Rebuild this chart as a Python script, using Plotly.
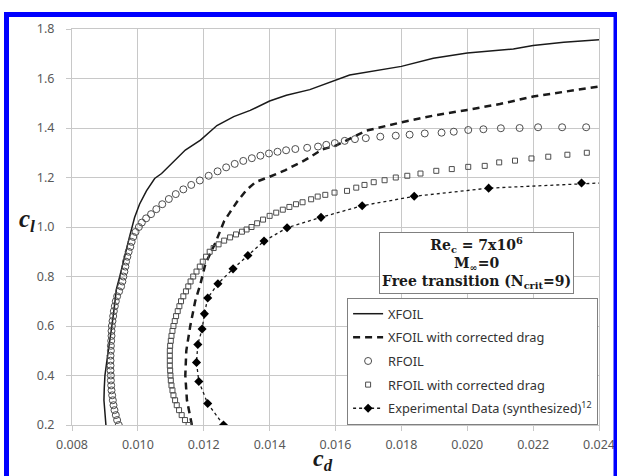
import plotly.graph_objects as go

# ---------------- data ----------------
xfoil_cd = [0.00903, 0.00899, 0.00897, 0.00898, 0.00900, 0.00905, 0.00911, 0.00915, 0.00921, 0.00926,
            0.00930, 0.00935, 0.00945, 0.00954, 0.00963, 0.00974, 0.00990, 0.01005, 0.01026, 0.01051,
            0.01072, 0.01097, 0.01120, 0.01144, 0.01190, 0.01240, 0.01291, 0.01341, 0.01400, 0.01451,
            0.01522, 0.01600, 0.01643, 0.01800, 0.01897, 0.02000, 0.02140, 0.02200, 0.02293, 0.02400]
xfoil_cl = [0.200, 0.250, 0.300, 0.350, 0.400, 0.450, 0.500, 0.550, 0.600, 0.650,
            0.700, 0.750, 0.800, 0.851, 0.900, 0.957, 1.038, 1.092, 1.146, 1.196,
            1.216, 1.250, 1.280, 1.311, 1.351, 1.410, 1.446, 1.471, 1.509, 1.532,
            1.555, 1.591, 1.614, 1.649, 1.682, 1.703, 1.719, 1.733, 1.746, 1.757]

xfoil_corr_cd = [0.01164, 0.01149, 0.01144, 0.01147, 0.01159, 0.01174, 0.01190, 0.01205, 0.01235, 0.01262,
                 0.01280, 0.01300, 0.01330, 0.01358, 0.01400, 0.01448, 0.01507, 0.01561, 0.01600, 0.01693,
                 0.01800, 0.01897, 0.02000, 0.02099, 0.02200, 0.02304, 0.02400]
xfoil_corr_cl = [0.200, 0.300, 0.400, 0.500, 0.600, 0.700, 0.770, 0.851, 0.935, 1.024,
                 1.060, 1.100, 1.150, 1.182, 1.203, 1.230, 1.270, 1.314, 1.328, 1.389,
                 1.423, 1.450, 1.473, 1.497, 1.527, 1.549, 1.568]

rfoil_cd = [0.00942, 0.00937, 0.00933, 0.00929, 0.00926, 0.00924, 0.00922, 0.00920, 0.00919, 0.00918,
            0.00918, 0.00917, 0.00917, 0.00917, 0.00917, 0.00918, 0.00918, 0.00919, 0.00920, 0.00920,
            0.00921, 0.00923, 0.00925, 0.00927, 0.00930, 0.00933, 0.00937, 0.00943, 0.00949, 0.00953,
            0.00956, 0.00959, 0.00962, 0.00964, 0.00968, 0.00972, 0.00977, 0.00981, 0.00986, 0.00993,
            0.01003, 0.01012, 0.01025, 0.01040, 0.01056, 0.01074, 0.01094, 0.01115, 0.01138, 0.01162,
            0.01188, 0.01215, 0.01242, 0.01268, 0.01294, 0.01320, 0.01346, 0.01372, 0.01398, 0.01424,
            0.01450, 0.01478, 0.01514, 0.01547, 0.01572, 0.01598, 0.01628, 0.01659, 0.01692, 0.01736,
            0.01783, 0.01825, 0.01871, 0.01922, 0.01959, 0.02003, 0.02049, 0.02102, 0.02159, 0.02215,
            0.02288, 0.02361]
rfoil_cl = [0.200, 0.220, 0.240, 0.260, 0.280, 0.300, 0.320, 0.340, 0.360, 0.380,
            0.400, 0.420, 0.440, 0.460, 0.480, 0.500, 0.520, 0.540, 0.560, 0.580,
            0.600, 0.620, 0.640, 0.660, 0.680, 0.700, 0.720, 0.740, 0.760, 0.780,
            0.800, 0.820, 0.840, 0.860, 0.880, 0.900, 0.920, 0.940, 0.960, 0.980,
            1.000, 1.018, 1.035, 1.052, 1.072, 1.092, 1.113, 1.133, 1.152, 1.170,
            1.188, 1.207, 1.225, 1.241, 1.255, 1.267, 1.278, 1.288, 1.297, 1.304,
            1.310, 1.315, 1.320, 1.325, 1.332, 1.339, 1.348, 1.355, 1.359, 1.365,
            1.369, 1.373, 1.378, 1.381, 1.385, 1.392, 1.395, 1.399, 1.400, 1.403,
            1.403, 1.403]

rfoil_corr_cd = [0.01154, 0.01143, 0.01133, 0.01125, 0.01118, 0.01113, 0.01108, 0.01105, 0.01102, 0.01100,
                 0.01099, 0.01098, 0.01097, 0.01097, 0.01097, 0.01097, 0.01098, 0.01100, 0.01102, 0.01105,
                 0.01108, 0.01112, 0.01116, 0.01121, 0.01126, 0.01131, 0.01138, 0.01146, 0.01153, 0.01160,
                 0.01168, 0.01178, 0.01188, 0.01197, 0.01207, 0.01218, 0.01230, 0.01245, 0.01262, 0.01280,
                 0.01298, 0.01316, 0.01330, 0.01345, 0.01362, 0.01380, 0.01400, 0.01420, 0.01440, 0.01460,
                 0.01480, 0.01500, 0.01526, 0.01546, 0.01569, 0.01597, 0.01635, 0.01663, 0.01688, 0.01716,
                 0.01749, 0.01783, 0.01818, 0.01858, 0.01906, 0.01953, 0.02003, 0.02053, 0.02097, 0.02145,
                 0.02195, 0.02246, 0.02304, 0.02363]
rfoil_corr_cl = [0.200, 0.220, 0.240, 0.260, 0.280, 0.300, 0.320, 0.340, 0.360, 0.380,
                 0.400, 0.420, 0.440, 0.460, 0.480, 0.500, 0.520, 0.540, 0.560, 0.580,
                 0.600, 0.620, 0.640, 0.660, 0.680, 0.700, 0.720, 0.740, 0.760, 0.780,
                 0.800, 0.820, 0.840, 0.860, 0.880, 0.900, 0.915, 0.930, 0.945, 0.958,
                 0.970, 0.981, 0.990, 1.000, 1.015, 1.030, 1.045, 1.058, 1.070, 1.081,
                 1.092, 1.100, 1.112, 1.123, 1.130, 1.139, 1.146, 1.159, 1.170, 1.181,
                 1.189, 1.200, 1.207, 1.216, 1.227, 1.234, 1.243, 1.247, 1.261, 1.268,
                 1.277, 1.284, 1.292, 1.300]

exp_cd = [0.01260, 0.01212, 0.01185, 0.01178, 0.01182, 0.01195, 0.01202, 0.01212, 0.01243, 0.01289,
          0.01334, 0.01383, 0.01453, 0.01556, 0.01681, 0.01839, 0.02065, 0.02347, 0.02600]
exp_cl = [0.200, 0.287, 0.376, 0.453, 0.525, 0.588, 0.649, 0.713, 0.771, 0.831,
          0.885, 0.943, 0.997, 1.039, 1.086, 1.124, 1.157, 1.178, 1.190]

x_ticks = [0.008, 0.010, 0.012, 0.014, 0.016, 0.018, 0.020, 0.022, 0.024]
y_ticks = [0.2, 0.4, 0.6, 0.8, 1.0, 1.2, 1.4, 1.6, 1.8]

series_names = ["XFOIL", "XFOIL with corrected drag", "RFOIL", "RFOIL with corrected drag",
                "Experimental Data (synthesized)<sup>12</sup>"]

# ---------------- figure ----------------
fig = go.Figure()
fig.add_trace(go.Scatter(x=xfoil_cd, y=xfoil_cl, mode="lines", name=series_names[0],
                         legendgroup="a", line=dict(color="#1a1a1a", width=1.5)))
fig.add_trace(go.Scatter(x=xfoil_corr_cd, y=xfoil_corr_cl, mode="lines", name=series_names[1],
                         legendgroup="b", line=dict(color="#1a1a1a", width=2.5, dash="7px,5px")))
fig.add_trace(go.Scatter(x=rfoil_cd, y=rfoil_cl, mode="markers", name=series_names[2],
                         legendgroup="c",
                         marker=dict(symbol="circle-open", size=7, color="#4d4d4d", line=dict(width=1))))
fig.add_trace(go.Scatter(x=rfoil_corr_cd, y=rfoil_corr_cl, mode="markers", name=series_names[3],
                         legendgroup="d",
                         marker=dict(symbol="square-open", size=5, color="#4d4d4d", line=dict(width=1))))
fig.add_trace(go.Scatter(x=exp_cd, y=exp_cl, mode="lines+markers", name=series_names[4],
                         legendgroup="e",
                         line=dict(color="#1a1a1a", width=1.3, dash="dot"),
                         marker=dict(symbol="diamond", size=7, color="#000000")))

grid = "#c8c8c8"
tickfont = dict(family="Noto Sans", size=12.5, color="#595959")
fig.update_xaxes(range=[0.008, 0.024], tickvals=x_ticks, ticktext=[f"{v:.3f}" for v in x_ticks],
                 showgrid=True, gridcolor=grid, gridwidth=1, showline=True, linecolor=grid,
                 mirror=True, ticks="outside", ticklen=5, tickcolor=grid, tickfont=tickfont,
                 ticklabelstandoff=3, zeroline=False, automargin=False)
fig.update_yaxes(range=[0.2, 1.8], tickvals=y_ticks, ticktext=[f"{v:.1f}" for v in y_ticks],
                 showgrid=True, gridcolor=grid, gridwidth=1, showline=True, linecolor=grid,
                 mirror=True, ticks="outside", ticklen=5, tickcolor=grid, tickfont=tickfont,
                 ticklabelstandoff=9, zeroline=False, automargin=False)

fig.update_layout(
    width=617, height=476,
    margin=dict(l=72, r=18, t=29, b=51),
    paper_bgcolor="white", plot_bgcolor="white",
    showlegend=True,
    legend=dict(x=0.522, y=0.321, xanchor="left", yanchor="top",
                bgcolor="white", bordercolor="#808080", borderwidth=1,
                font=dict(family="Noto Sans", size=12.8, color="#333333"),
                tracegroupgap=4, itemwidth=30),
    shapes=[dict(type="rect", xref="paper", yref="paper",
                 x0=(6.5 - 72) / 527, x1=(616 - 72) / 527,
                 y0=(425 - 490) / 396, y1=(425 - 14.5) / 396,
                 line=dict(color="#0000ff", width=5), layer="above")],
    annotations=[
        dict(xref="paper", yref="paper", x=(476 - 72) / 527, y=(425 - 263) / 396,
             xanchor="center", yanchor="middle", showarrow=False,
             text="Re<sub>c</sub> = 7x10<sup>6</sup><br>M<sub>∞</sub>=0<br>Free transition (N<sub>crit</sub>=9)",
             font=dict(family="DejaVu Serif", size=14, color="#1a1a1a", weight="bold"),
             bgcolor="white", bordercolor="#808080", borderwidth=1, borderpad=2, align="center"),
        dict(xref="paper", yref="paper", x=(323 - 72) / 527, y=(425 - 460) / 396,
             xanchor="center", yanchor="middle", showarrow=False,
             text="<b><i>c<sub>d</sub></i></b>",
             font=dict(family="Liberation Serif", size=24, color="#1a1a1a")),
        dict(xref="paper", yref="paper", x=(27 - 72) / 527, y=(425 - 220) / 396,
             xanchor="center", yanchor="middle", showarrow=False,
             text="<b><i>c<sub>l</sub></i></b>",
             font=dict(family="Liberation Serif", size=25, color="#1a1a1a")),
    ],
)

fig.write_html("out.html")
